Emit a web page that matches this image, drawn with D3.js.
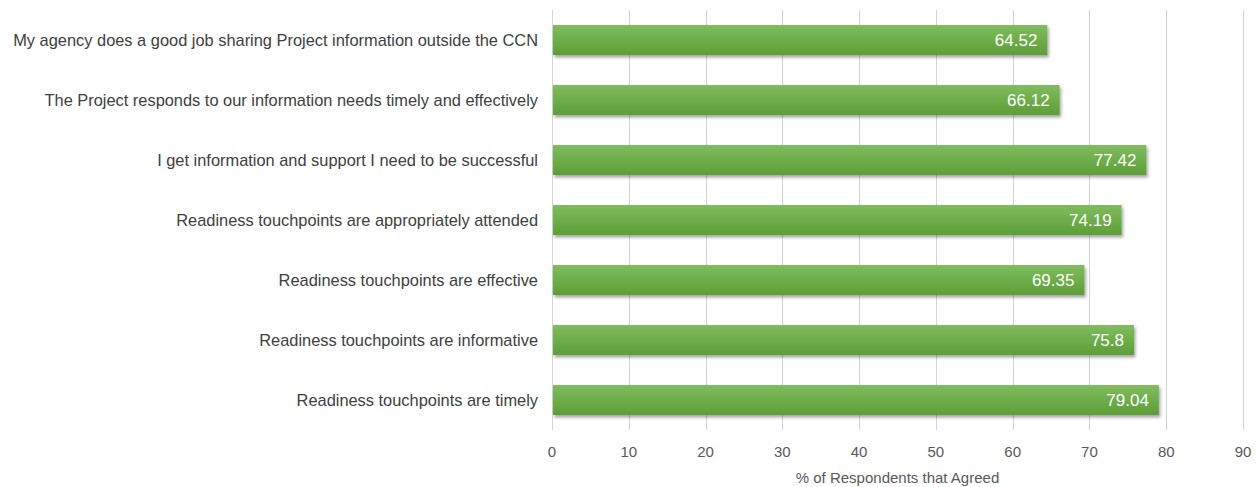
<!DOCTYPE html>
<html>
<head>
<meta charset="utf-8">
<script src="https://cdn.jsdelivr.net/npm/d3@7"></script>
<style>
  body { margin: 0; background: #fff; }
  text { font-family: "Liberation Sans", Arial, sans-serif; }
</style>
</head>
<body>
<div id="chart"></div>
<script>
var categories = [
  "My agency does a good job sharing Project information outside the CCN",
  "The Project responds to our information needs timely and effectively",
  "I get information and support I need to be successful",
  "Readiness touchpoints are appropriately attended",
  "Readiness touchpoints are effective",
  "Readiness touchpoints are informative",
  "Readiness touchpoints are timely"
]
var values = [64.52, 66.12, 77.42, 74.19, 69.35, 75.8, 79.04]
var value_labels = ["64.52", "66.12", "77.42", "74.19", "69.35", "75.8", "79.04"]
var x_ticks = [0, 10, 20, 30, 40, 50, 60, 70, 80, 90]
var x_title = "% of Respondents that Agreed"

var width = 1256, height = 487
var margin = {left: 552, right: 13, top: 10, bottom: 57}

var svg = d3.select("#chart").append("svg")
  .attr("width", width).attr("height", height)

var defs = svg.append("defs")
var grad = defs.append("linearGradient").attr("id", "bar-grad")
  .attr("x1", 0).attr("y1", 0).attr("x2", 0).attr("y2", 1)
grad.append("stop").attr("offset", "0%").attr("stop-color", "#81bc5f")
grad.append("stop").attr("offset", "100%").attr("stop-color", "#5c9e36")

var shadow = defs.append("filter").attr("id", "shadow")
  .attr("x", "-5%").attr("y", "-30%").attr("width", "110%").attr("height", "180%")
shadow.append("feDropShadow").attr("dx", 1.5).attr("dy", 2.5)
  .attr("stdDeviation", 1.8).attr("flood-color", "#000").attr("flood-opacity", 0.35)

var x = d3.scaleLinear().domain([0, 90]).range([margin.left, width - margin.right])
var y = d3.scaleBand().domain(categories)
  .range([margin.top, height - margin.bottom]).paddingInner(0.5).paddingOuter(0.25)

// grid
svg.append("g").selectAll("line").data(x_ticks).enter().append("line")
  .attr("x1", function(d){ return Math.round(x(d)) + 0.5 })
  .attr("x2", function(d){ return Math.round(x(d)) + 0.5 })
  .attr("y1", margin.top).attr("y2", height - margin.bottom)
  .attr("stroke", "#d4d4d4").attr("stroke-width", 1)

// bars
svg.append("g").selectAll("rect").data(values).enter().append("rect")
  .attr("x", x(0) + 1)
  .attr("y", function(d, i){ return y(categories[i]) })
  .attr("width", function(d){ return x(d) - x(0) - 1 })
  .attr("height", y.bandwidth())
  .attr("fill", "url(#bar-grad)")
  .attr("filter", "url(#shadow)")

// value labels
svg.append("g").selectAll("text").data(values).enter().append("text")
  .attr("x", function(d){ return x(d) - 10 })
  .attr("y", function(d, i){ return y(categories[i]) + y.bandwidth() / 2 })
  .attr("dy", "0.35em")
  .attr("text-anchor", "end")
  .attr("fill", "#fff")
  .style("font-size", "17px")
  .text(function(d, i){ return value_labels[i] })

// category labels
svg.append("g").selectAll("text").data(categories).enter().append("text")
  .attr("x", margin.left - 14)
  .attr("y", function(d){ return y(d) + y.bandwidth() / 2 })
  .attr("dy", "0.35em")
  .attr("text-anchor", "end")
  .attr("fill", "#404040")
  .style("font-size", "16.4px")
  .text(function(d){ return d })

// x tick labels
svg.append("g").selectAll("text").data(x_ticks).enter().append("text")
  .attr("x", function(d){ return x(d) })
  .attr("y", height - margin.bottom + 27)
  .attr("text-anchor", "middle")
  .attr("fill", "#595959")
  .style("font-size", "15px")
  .text(function(d){ return d })

svg.append("text")
  .attr("x", (x(0) + x(90)) / 2)
  .attr("y", height - 4)
  .attr("text-anchor", "middle")
  .attr("fill", "#595959")
  .style("font-size", "15px")
  .text(x_title)
</script>
</body>
</html>
